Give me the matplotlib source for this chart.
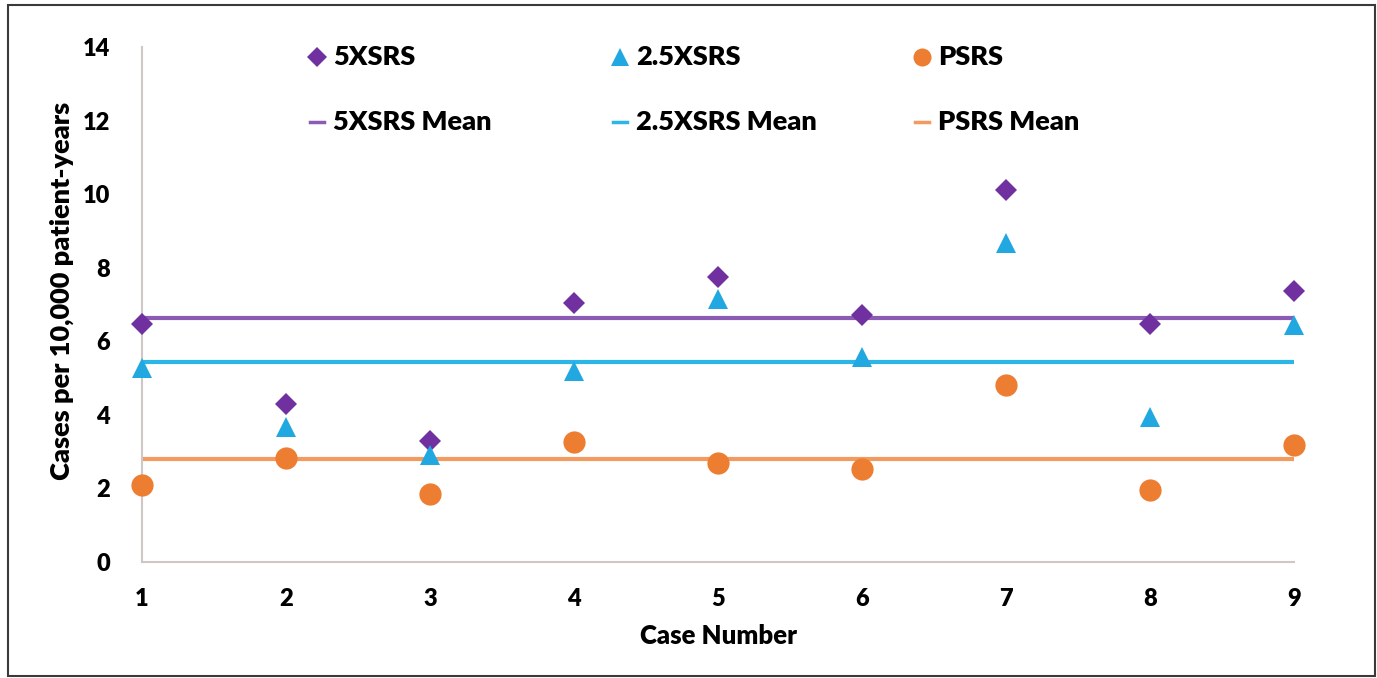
import matplotlib
matplotlib.use("Agg")
import matplotlib.pyplot as plt
from matplotlib.lines import Line2D
from matplotlib.patches import Rectangle

plt.rcParams['font.family'] = ['Lato', 'DejaVu Sans']

cases = [1, 2, 3, 4, 5, 6, 7, 8, 9]
srs5x = [6.48, 4.29, 3.29, 7.04, 7.75, 6.71, 10.12, 6.46, 7.36]
srs25x = [5.27, 3.67, 2.91, 5.18, 7.15, 5.58, 8.68, 3.94, 6.45]
psrs = [2.09, 2.83, 1.85, 3.26, 2.68, 2.53, 4.81, 1.97, 3.19]
mean_5x = 6.63
mean_25x = 5.45
mean_ps = 2.81
yticks = [0, 2, 4, 6, 8, 10, 12, 14]

c_purple = '#7030A0'
c_cyan = '#22A8E0'
c_orange = '#ED7D31'
c_purple_l = '#8C5CB4'
c_cyan_l = '#2DB5E8'
c_orange_l = '#F29A60'

W, H = 1377, 678
fig = plt.figure(figsize=(W / 100, H / 100), dpi=100)
fig.patch.set_facecolor('white')
fig.add_artist(Rectangle((8 / W, 2 / H), (1375 - 8) / W, (673 - 2) / H,
                         transform=fig.transFigure, fill=False,
                         edgecolor='#3a3a3a', linewidth=1.5))

ax = fig.add_axes([142 / W, 1 - 562 / H, (1294 - 142) / W, (562 - 47) / H])
ax.set_xlim(1, 9)
ax.set_ylim(0, 14)
for s in ['top', 'right']:
    ax.spines[s].set_visible(False)
for s in ['left', 'bottom']:
    ax.spines[s].set_color('#cfc6c6')
    ax.spines[s].set_linewidth(1.5)
ax.set_xticks(cases)
ax.set_yticks(yticks)
ax.tick_params(length=0, labelsize=17)
ax.tick_params(axis='x', pad=19)
ax.tick_params(axis='y', pad=23)
for lab in ax.get_xticklabels() + ax.get_yticklabels():
    lab.set_fontweight('heavy')

ax.plot([cases[0], cases[-1]], [mean_5x, mean_5x], color=c_purple_l, lw=3, zorder=2, solid_capstyle='butt')
ax.plot([cases[0], cases[-1]], [mean_25x, mean_25x], color=c_cyan_l, lw=3, zorder=2, solid_capstyle='butt')
ax.plot([cases[0], cases[-1]], [mean_ps, mean_ps], color=c_orange_l, lw=3, zorder=2, solid_capstyle='butt')

ax.plot(cases, srs5x, 'D', color=c_purple, markersize=11, markeredgewidth=0, zorder=3, clip_on=False)
ax.plot(cases, srs25x, '^', color=c_cyan, markersize=15, markeredgewidth=0, zorder=3, clip_on=False)
ax.plot(cases, psrs, 'o', color=c_orange, markersize=16, markeredgewidth=0, zorder=3, clip_on=False)

ax.set_xlabel('Case Number', fontsize=18.5, fontweight='heavy')
ax.xaxis.set_label_coords(0.5, -(636 - 562) / (562 - 47))
ax.xaxis.label.set_va('center')
ax.set_ylabel('Cases per 10,000 patient-years', fontsize=19.5, fontweight='heavy')
ax.yaxis.set_label_coords(-(142 - 62) / (1294 - 142), (562 - 291) / (562 - 47))
ax.yaxis.label.set_va('center')

# legend entries (figure pixel positions)
def fx(px):
    return px / W

def fy(py):
    return 1 - py / H

legend_cols = [
    (317, 'D', 10, c_purple, c_purple_l, '5XSRS', '5XSRS Mean'),
    (620, '^', 13, c_cyan, c_cyan_l, '2.5XSRS', '2.5XSRS Mean'),
    (922, 'o', 13, c_orange, c_orange_l, 'PSRS', 'PSRS Mean'),
]
row1, row2 = 57, 122
for xpx, mk, ms, col, coll, lab1, lab2 in legend_cols:
    fig.add_artist(Line2D([fx(xpx)], [fy(row1)], marker=mk, color=col, markersize=ms,
                          markeredgewidth=0, ls='', transform=fig.transFigure))
    fig.add_artist(Line2D([fx(xpx - 7), fx(xpx + 7)], [fy(row2), fy(row2)], color=coll,
                          lw=2.5, transform=fig.transFigure))
    fig.text(fx(xpx + 16), fy(row1), lab1, fontsize=19.5, fontweight='heavy', va='center', ha='left')
    fig.text(fx(xpx + 16), fy(row2), lab2, fontsize=19.5, fontweight='heavy', va='center', ha='left')

fig.savefig('out.png', dpi=100, facecolor='white')
